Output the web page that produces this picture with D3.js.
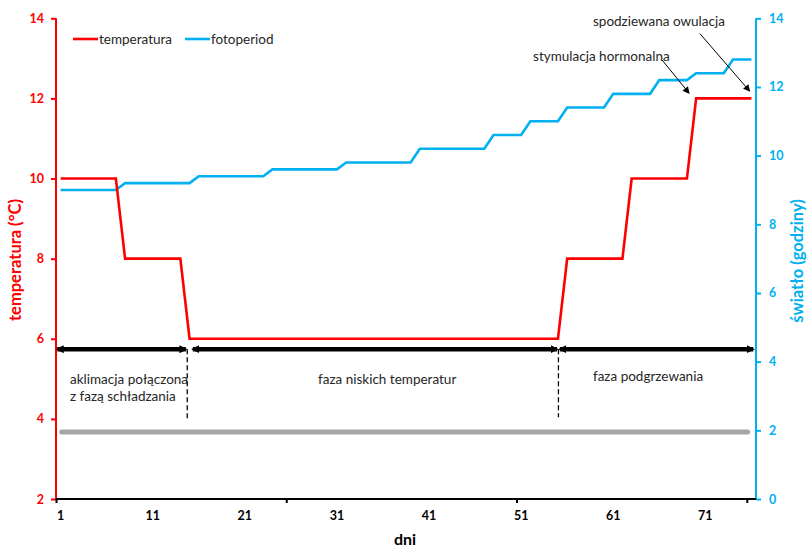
<!DOCTYPE html>
<html>
<head>
<meta charset="utf-8">
<script src="https://cdn.jsdelivr.net/npm/d3@7"></script>
<style>
body{margin:0;background:#fff;}
svg{display:block;}
text{font-family:Lato,"Open Sans",sans-serif;}
</style>
</head>
<body>
<svg id="chart" width="808" height="548"></svg>
<script>
// ---- data ----
const days = d3.range(1, 77);
const temperature = [
  10,10,10,10,10,10,10,
  8,8,8,8,8,8,8,
  6,6,6,6,6,6,6,6,6,6,6,6,6,6,6,6,6,6,6,6,6,6,6,6,6,6,6,6,6,6,6,6,6,6,6,6,6,6,6,6,6,
  8,8,8,8,8,8,8,
  10,10,10,10,10,10,10,
  12,12,12,12,12,12,12
];
const photoperiod = [
  9.0,9.0,9.0,9.0,9.0,9.0,9.0,
  9.2,9.2,9.2,9.2,9.2,9.2,9.2,9.2,
  9.4,9.4,9.4,9.4,9.4,9.4,9.4,9.4,
  9.6,9.6,9.6,9.6,9.6,9.6,9.6,9.6,
  9.8,9.8,9.8,9.8,9.8,9.8,9.8,9.8,
  10.2,10.2,10.2,10.2,10.2,10.2,10.2,10.2,
  10.6,10.6,10.6,10.6,
  11.0,11.0,11.0,11.0,
  11.4,11.4,11.4,11.4,11.4,
  11.8,11.8,11.8,11.8,11.8,
  12.2,12.2,12.2,12.2,
  12.4,12.4,12.4,12.4,
  12.8,12.8,12.8
];
const xTickLabels = [1, 11, 21, 31, 41, 51, 61, 71];
const xTickMarks = [0, 25, 50, 75];          // category boundaries
const leftTicks = [2, 4, 6, 8, 10, 12, 14];
const rightTicks = [0, 2, 4, 6, 8, 10, 12, 14];
const seriesNames = ["temperatura", "fotoperiod"];

// phase annotations (x in category-boundary units, y in °C)
const phaseArrows = [
  {x0: 0.14, x1: 14.1},
  {x0: 14.85, x1: 54.4},
  {x0: 54.7, x1: 75.7}
];
const phaseY = 5.74;
const phaseDividers = [{x: 14.25, y1: 3.97}, {x: 54.55, y1: 4.04}];
const phaseLabels = [
  {x: 1.52, y: 4.87, t: "aklimacja połączona"},
  {x: 1.52, y: 4.45, t: "z fazą schładzania"},
  {x: 28.45, y: 4.88, t: "faza niskich temperatur"},
  {x: 58.3, y: 4.95, t: "faza podgrzewania"}
];
const grayArrow = {x0: 0.62, x1: 75.1, y: 3.67};
const notes = [
  {t: "spodziewana owulacja", tx: 58.3, ty: 13.8, ax0: 69.9, ay0: 13.62, ax1: 75.28, ay1: 12.19},
  {t: "stymulacja hormonalna", tx: 51.8, ty: 12.93, ax0: 65.8, ay0: 12.96, ax1: 68.7, ay1: 12.14}
];

// ---- layout ----
const L = 56, R = 756, T = 18.3, B = 499;
const RED = "#FF0000", BLUE = "#00B0F0", GRAY = "#A6A6A6", TXT = "#262626";

const svg = d3.select("#chart");
const x = d3.scaleBand().domain(days).range([L, R]).padding(0);
const xc = d => x(d) + x.bandwidth() / 2;
const xb = d3.scaleLinear().domain([0, days.length]).range([L, R]);
const yL = d3.scaleLinear().domain([2, 14]).range([B, T]);
const yR = d3.scaleLinear().domain([0, 14]).range([B, T]);

const defs = svg.append("defs");
function marker(id, color, w, h) {
  defs.append("marker").attr("id", id)
    .attr("viewBox", "0 0 10 10").attr("refX", 8).attr("refY", 5)
    .attr("markerWidth", w).attr("markerHeight", h)
    .attr("markerUnits", "userSpaceOnUse")
    .attr("orient", "auto-start-reverse")
    .append("path").attr("d", "M0,0 L10,5 L0,10 Z").attr("fill", color);
}
marker("mBlack", "#000", 8, 9);
marker("mThin", "#000", 8, 7);

// axes
const axL = svg.append("g").attr("transform", `translate(${L},0)`)
  .call(d3.axisLeft(yL).tickValues(leftTicks).tickSize(5).tickPadding(7).tickFormat(d3.format("d")));
axL.select(".domain").attr("stroke", RED).attr("stroke-width", 2).attr("d", `M0,${B}V${T}`);
axL.selectAll(".tick line").attr("stroke", RED).attr("stroke-width", 2);
axL.selectAll(".tick text").attr("fill", RED).attr("font-size", 12.5).attr("font-weight", "bold");

const axR = svg.append("g").attr("transform", `translate(${R},0)`)
  .call(d3.axisRight(yR).tickValues(rightTicks).tickSize(5).tickPadding(8).tickFormat(d3.format("d")));
axR.select(".domain").attr("stroke", BLUE).attr("stroke-width", 2).attr("d", `M0,${B}V${T}`);
axR.selectAll(".tick line").attr("stroke", BLUE).attr("stroke-width", 2);
axR.selectAll(".tick text").attr("fill", BLUE).attr("font-size", 12.5).attr("font-weight", "bold");

const axB = svg.append("g").attr("transform", `translate(0,${B})`)
  .call(d3.axisBottom(xb).tickValues(xTickMarks).tickSize(4).tickFormat(""));
axB.select(".domain").attr("stroke", "#000").attr("stroke-width", 2.2).attr("d", `M${L},0H${R}`);
axB.selectAll(".tick line").attr("stroke", "#000").attr("stroke-width", 2);

const axBL = svg.append("g").attr("transform", `translate(0,${B})`)
  .call(d3.axisBottom(x).tickValues(xTickLabels).tickSize(0).tickPadding(12));
axBL.select(".domain").remove();
axBL.selectAll(".tick text").attr("fill", "#000").attr("font-size", 12.5).attr("font-weight", "bold");

// axis titles
svg.append("text").attr("transform", `translate(21,260) rotate(-90)`)
  .attr("text-anchor", "middle").attr("fill", RED).attr("font-size", 16.5).attr("font-weight", "bold")
  .text("temperatura (°C)");
svg.append("text").attr("transform", `translate(803,261) rotate(-90)`)
  .attr("text-anchor", "middle").attr("fill", BLUE).attr("font-size", 16.5).attr("font-weight", "bold")
  .text("światło (godziny)");
svg.append("text").attr("x", 405).attr("y", 545)
  .attr("text-anchor", "middle").attr("fill", "#000").attr("font-size", 16).attr("font-weight", "bold")
  .text("dni");

// phase arrows
svg.selectAll(".phase").data(phaseArrows).join("line")
  .attr("x1", d => xb(d.x0)).attr("x2", d => xb(d.x1))
  .attr("y1", yL(phaseY)).attr("y2", yL(phaseY))
  .attr("stroke", "#000").attr("stroke-width", 4.5)
  .attr("marker-start", "url(#mBlack)").attr("marker-end", "url(#mBlack)");
svg.selectAll(".divider").data(phaseDividers).join("line")
  .attr("x1", d => xb(d.x)).attr("x2", d => xb(d.x))
  .attr("y1", yL(phaseY)).attr("y2", d => yL(d.y1))
  .attr("stroke", "#000").attr("stroke-width", 1.3).attr("stroke-dasharray", "5,3");
svg.selectAll(".plabel").data(phaseLabels).join("text")
  .attr("x", d => xb(d.x)).attr("y", d => yL(d.y))
  .attr("fill", TXT).attr("font-size", 13.5).text(d => d.t);

// gray arrow
svg.append("line")
  .attr("x1", xb(grayArrow.x0)).attr("x2", xb(grayArrow.x1))
  .attr("y1", yL(grayArrow.y)).attr("y2", yL(grayArrow.y))
  .attr("stroke", GRAY).attr("stroke-width", 5).attr("stroke-linecap", "round");

// data lines
const lineT = d3.line().x((d, i) => xc(days[i])).y(d => yL(d));
const lineP = d3.line().x((d, i) => xc(days[i])).y(d => yR(d));
svg.append("path").datum(photoperiod).attr("d", lineP)
  .attr("fill", "none").attr("stroke", BLUE).attr("stroke-width", 2.6);
svg.append("path").datum(temperature).attr("d", lineT)
  .attr("fill", "none").attr("stroke", RED).attr("stroke-width", 2.6);

// notes
svg.selectAll(".note").data(notes).join("text")
  .attr("x", d => xb(d.tx)).attr("y", d => yL(d.ty))
  .attr("fill", TXT).attr("font-size", 13.5).text(d => d.t);
svg.selectAll(".noteArrow").data(notes).join("line")
  .attr("x1", d => xb(d.ax0)).attr("y1", d => yL(d.ay0))
  .attr("x2", d => xb(d.ax1)).attr("y2", d => yL(d.ay1))
  .attr("stroke", "#000").attr("stroke-width", 1).attr("marker-end", "url(#mThin)");

// legend
const lg = svg.append("g");
const legendItems = [{n: seriesNames[0], c: RED, x: 73}, {n: seriesNames[1], c: BLUE, x: 185}];
lg.selectAll("line").data(legendItems).join("line")
  .attr("x1", d => d.x).attr("x2", d => d.x + 25).attr("y1", 39).attr("y2", 39)
  .attr("stroke", d => d.c).attr("stroke-width", 2.6);
lg.selectAll("text").data(legendItems).join("text")
  .attr("x", d => d.x + 26).attr("y", 43.5).attr("fill", TXT).attr("font-size", 13.5).text(d => d.n);
</script>
</body>
</html>
